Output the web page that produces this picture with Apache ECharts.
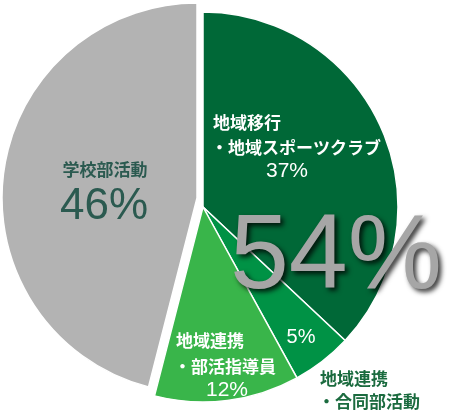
<!DOCTYPE html>
<html>
<head>
<meta charset="utf-8">
<script src="https://cdn.jsdelivr.net/npm/echarts@6/dist/echarts.min.js"></script>
<style>
  html, body { margin: 0; padding: 0; background: #fff; }
  #main { width: 455px; height: 416px; }
</style>
</head>
<body>
<div id="main"></div>
<script>
// 部活動の形態 (%)
var names = ['地域移行・地域スポーツクラブ', '地域連携・合同部活動', '地域連携・部活指導員', '学校部活動'];
var values = [37, 5, 12, 46];
var colors = ['#006837', '#009245', '#39b54a', '#b3b3b3'];
var bigLabel = '54%';

var jp = '"Noto Sans CJK JP", sans-serif';
var num = '"Liberation Sans", Arial, sans-serif';

var chart = echarts.init(document.getElementById('main'));

function pieData(keepGray) {
    return values.map(function (v, i) {
        var isGray = i === values.length - 1;
        var show = keepGray ? isGray : !isGray;
        return {
            value: v,
            name: names[i],
            itemStyle: {
                color: show ? colors[i] : 'rgba(0,0,0,0)',
                borderColor: show ? '#fff' : 'rgba(0,0,0,0)',
                borderWidth: show ? 1.5 : 0
            }
        };
    });
}

function txt(x, y, text, font, color, align, extra) {
    var s = {
        text: text,
        font: font,
        fill: color,
        textAlign: align || 'left',
        textVerticalAlign: 'middle'
    };
    if (extra) for (var k in extra) s[k] = extra[k];
    return { type: 'text', x: x, y: y, silent: true, style: s, z: 100 };
}

var jpFont = 'bold 17px ' + jp;

var option = {
    animation: false,
    series: [
        {
            // green slices
            type: 'pie',
            center: [203, 207],
            radius: [0, 195],
            startAngle: 90,
            clockwise: true,
            label: { show: false },
            labelLine: { show: false },
            emphasis: { disabled: true },
            data: pieData(false)
        },
        {
            // 学校部活動 slice, pulled out
            type: 'pie',
            center: [197, 198],
            radius: [0, 195],
            startAngle: 90,
            clockwise: true,
            label: { show: false },
            labelLine: { show: false },
            emphasis: { disabled: true },
            data: pieData(true)
        }
    ],
    graphic: [
        txt(213, 123, '地域移行', jpFont, '#fff'),
        txt(211, 148, '・地域スポーツクラブ', jpFont, '#fff'),
        txt(287, 171, values[0] + '%', '21px ' + num, '#fff', 'center'),

        txt(105, 170, '学校部活動', jpFont, '#2b5a50', 'center'),
        txt(104, 207, values[3] + '%', '44px ' + num, '#2b5a50', 'center'),

        txt(301, 337, values[1] + '%', '20px ' + num, '#fff', 'center'),

        txt(176, 341, '地域連携', jpFont, '#fff'),
        txt(174, 367, '・部活指導員', jpFont, '#fff'),
        txt(227, 390, values[2] + '%', '21px ' + num, '#fff', 'center'),

        txt(320, 379, '地域連携', jpFont, '#1b6b3f'),
        txt(318, 402, '・合同部活動', jpFont, '#1b6b3f'),

        txt(336, 259, bigLabel, '106px ' + num, '#a6a6a6', 'center', {
            textShadowColor: 'rgba(0,0,0,0.8)',
            textShadowBlur: 5,
            textShadowOffsetX: 3,
            textShadowOffsetY: 3,
            shadowColor: 'rgba(0,0,0,0.8)',
            shadowBlur: 5,
            shadowOffsetX: 3,
            shadowOffsetY: 3
        })
    ]
};

chart.setOption(option, true);
</script>
</body>
</html>
